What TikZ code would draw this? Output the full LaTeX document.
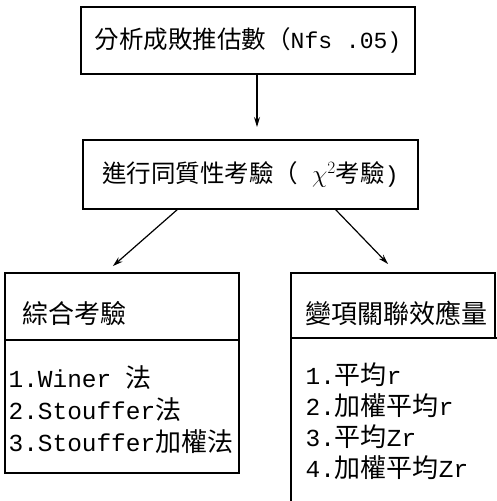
\documentclass[tikz,border=0pt]{standalone}
\usepackage{fontspec}
\setmainfont{Noto Sans CJK TC}
\setmonofont{Liberation Mono}[Scale=0.94]
\usetikzlibrary{arrows.meta}
\begin{document}
\begin{tikzpicture}[x=1pt, y=-1pt, line width=1.2pt,
  box/.style={draw, inner sep=0pt, outer sep=0pt},
  arr/.style={-{Stealth[length=10pt,width=6pt]}},
  big/.style={font=\fontsize{24.5}{30}\selectfont},
  txt/.style={align=left, inner sep=0pt, anchor=west}]
  \useasboundingbox (0,0) rectangle (496,501);
  % top boxes
  \node[box, big, minimum width=334pt, minimum height=67pt] (nfs) at (248,40.5)
    {分析成敗推估數（\texttt{Nfs .05)}};
  \node[box, big, minimum width=335pt, minimum height=69pt] (chi) at (250.5,174.5)
    {進行同質性考驗（\texttt{ }$\chi^2$考驗\texttt{)}};
  \coordinate (down) at (257,0);
  % left box
  \node[box, minimum width=234pt, minimum height=67pt, anchor=north west] (combT) at (5,273) {};
  \node[box, minimum width=234pt, minimum height=133pt, anchor=north] (combL) at (combT.south) {};
  \node[txt, font=\fontsize{26}{32}\selectfont] (combName) at ([xshift=17pt,yshift=-6.5pt]combT.west) {綜合考驗};
  \node[txt, font=\fontsize{26}{32}\selectfont] (combList) at ([xshift=3pt,yshift=-3.5pt]combL.west)
    {\texttt{1.Winer }法\\\texttt{2.Stouffer}法\\\texttt{3.Stouffer}加權法};
  % right box
  \node[box, minimum width=204pt, minimum height=65pt, anchor=north west] (effT) at (291,273) {};
  \node[box, minimum width=230pt, minimum height=170pt, anchor=north west] (effL) at (effT.south west) {};
  \node[txt, font=\fontsize{26}{31}\selectfont] (effName) at ([xshift=14pt,yshift=-7.5pt]effT.west) {變項關聯效應量};
  \node[txt, font=\fontsize{26}{31}\selectfont] (effList) at ([xshift=14pt,yshift=1.5pt]effL.west)
    {\texttt{1.}平均\texttt{r}\\\texttt{2.}加權平均\texttt{r}\\\texttt{3.}平均\texttt{Zr}\\\texttt{4.}加權平均\texttt{Zr}};
  % arrows
  \draw[arr, shorten >=13pt] (nfs.south -| down) -- (chi.north -| down);
  \draw[arr, shorten >=10.5pt] ([xshift=-72.5pt]chi.south) -- ([xshift=-17pt]combT.north);
  \draw[arr, shorten >=12.5pt] ([xshift=84.5pt]chi.south) -- ([xshift=3.7pt]effT.north);
\end{tikzpicture}
\end{document}
